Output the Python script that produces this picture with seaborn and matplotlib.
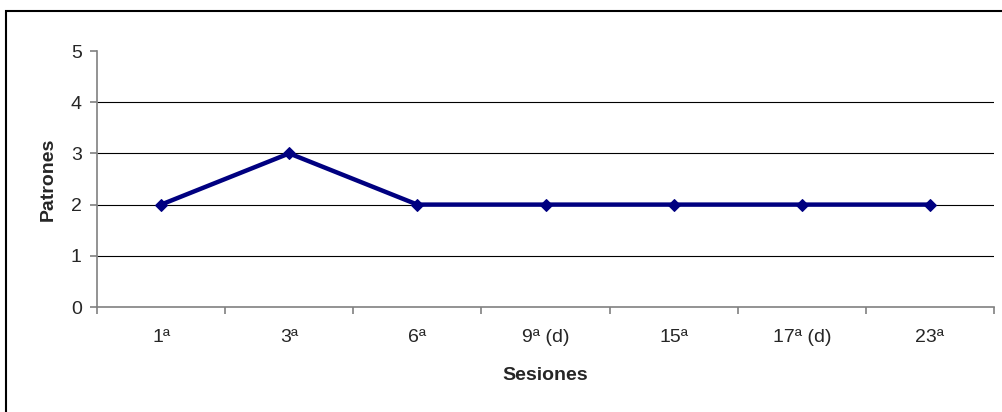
import pandas as pd
import matplotlib.pyplot as plt
import seaborn as sns
from matplotlib.patches import Rectangle
from matplotlib.ticker import FixedLocator

sesiones = ["1ª", "3ª", "6ª", "9ª (d)", "15ª", "17ª (d)", "23ª"]
patrones = [2, 3, 2, 2, 2, 2, 2]
y_ticks = [0, 1, 2, 3, 4, 5]

df = pd.DataFrame({"Sesiones": sesiones, "Patrones": patrones})

sns.set_style("white")
plt.rcParams["font.family"] = ["Liberation Sans", "DejaVu Sans"]

fig = plt.figure(figsize=(10.02, 4.12), dpi=100)
ax = fig.add_axes([97 / 1002, 105 / 412, 897 / 1002, 256 / 412])

# outer chart border (only top/left visible in the reference)
fig.patches.append(Rectangle((6 / 1002, -0.1), 1.1, (401 / 412) + 0.1,
                             transform=fig.transFigure, fill=False,
                             edgecolor="black", linewidth=1.5, zorder=0))

# horizontal gridlines (Excel style: none at the top value)
ax.hlines(y_ticks[1:-1], -0.5, len(sesiones) - 0.5, color="black",
          linewidth=0.8, zorder=1)

sns.lineplot(data=df, x="Sesiones", y="Patrones", sort=False, ax=ax,
             color="#000080", linewidth=3.2, marker="D", markersize=6,
             markeredgecolor="#000080", zorder=3)

ax.set_xlim(-0.5, len(sesiones) - 0.5)
ax.set_ylim(y_ticks[0], y_ticks[-1])
ax.set_yticks(y_ticks)
ax.set_xticks(range(len(sesiones)))
ax.set_xticklabels(sesiones)
ax.xaxis.set_minor_locator(FixedLocator([i - 0.5 for i in range(len(sesiones) + 1)]))

for side in ["top", "right"]:
    ax.spines[side].set_visible(False)
for side in ["left", "bottom"]:
    ax.spines[side].set_color("#808080")
    ax.spines[side].set_linewidth(1.2)

ax.tick_params(axis="x", which="major", length=0, pad=15.5, labelsize=14)
ax.tick_params(axis="x", which="minor", length=5, width=1.2, color="#808080",
               direction="out", bottom=True)
ax.tick_params(axis="y", length=5, width=1.2, color="#808080", direction="out",
               left=True, pad=6, labelsize=14)

ax.set_xlabel("Sesiones", fontsize=14, fontweight="bold")
ax.set_ylabel("Patrones", fontsize=14, fontweight="bold")
ax.xaxis.set_label_coords(0.5, (307 - 367) / 256)
ax.yaxis.set_label_coords((57 - 97) / 897, 0.5)

fig.savefig("out.png", dpi=100)
